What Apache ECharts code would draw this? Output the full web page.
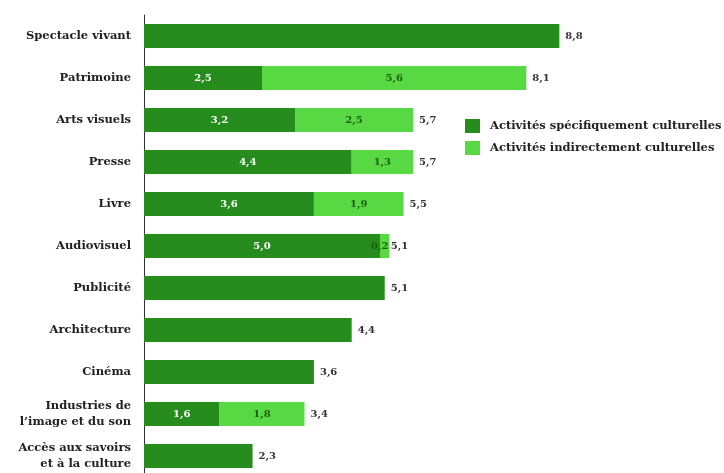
<!DOCTYPE html>
<html>
<head>
<meta charset="utf-8">
<script src="https://cdn.jsdelivr.net/npm/echarts@6/dist/echarts.min.js"></script>
<style>html,body{margin:0;padding:0;background:#fff;overflow:hidden;}#c{width:724px;height:478px;}</style>
</head>
<body>
<div id="c"></div>
<script>
var categories = ["Spectacle vivant","Patrimoine","Arts visuels","Presse","Livre","Audiovisuel","Publicité","Architecture","Cinéma","Industries de\nl’image et du son","Accès aux savoirs\net à la culture"];
var specifiques = [8.8, 2.5, 3.2, 4.4, 3.6, 5.0, 5.1, 4.4, 3.6, 1.6, 2.3];
var indirectes = [null, 5.6, 2.5, 1.3, 1.9, 0.2, null, null, null, 1.8, null];
var totals = [8.8, 8.1, 5.7, 5.7, 5.5, 5.1, 5.1, 4.4, 3.6, 3.4, 2.3];

var FONT = '"DejaVu Serif", "Liberation Serif", serif';
function fmt(v){ return v.toFixed(1).replace('.', ','); }
var indData = indirectes.map(function(v){
  if (v != null && v < 0.5) return { value: v, label: { offset: [-5, 0] } };
  return v;
});
var chart = echarts.init(document.getElementById('c'));
chart.setOption({
  animation: false,
  backgroundColor: '#fff',
  grid: { left: 144, top: 15, right: 108, bottom: 1 },
  xAxis: { type: 'value', min: 0, max: 10, show: false },
  yAxis: {
    type: 'category', data: categories, inverse: true,
    axisLine: { show: true, lineStyle: { color: '#333', width: 1 } },
    axisTick: { show: false },
    axisLabel: { margin: 13, color: '#222', fontFamily: FONT, fontWeight: 'bold', fontSize: 11.5, lineHeight: 16 }
  },
  legend: {
    data: ['Activités spécifiquement culturelles', 'Activités indirectement culturelles'],
    orient: 'vertical', left: 460, top: 114, itemWidth: 15, itemHeight: 14, itemGap: 8,
    icon: 'rect',
    textStyle: { color: '#222', fontFamily: FONT, fontWeight: 'bold', fontSize: 11.5, padding: [0, 0, 0, 5] }
  },
  series: [
    {
      name: 'Activités spécifiquement culturelles', type: 'bar', stack: 's', barWidth: 24,
      data: specifiques, itemStyle: { color: '#268c1e' },
      label: { show: true, position: 'inside', color: '#fff', fontFamily: FONT, fontWeight: 'bold', fontSize: 10,
        formatter: function(p){ return indirectes[p.dataIndex] == null ? '' : fmt(p.value); } }
    },
    {
      name: 'Activités indirectement culturelles', type: 'bar', stack: 's', barWidth: 24,
      data: indData, itemStyle: { color: '#58d842' },
      label: { show: true, position: 'inside', color: '#1f5e12', fontFamily: FONT, fontWeight: 'bold', fontSize: 10,
        formatter: function(p){ return fmt(p.value); } }
    },
    {
      name: 'Total', type: 'bar', barWidth: 24, barGap: '-100%', z: 1,
      data: totals, itemStyle: { color: 'rgba(0,0,0,0)' }, silent: true,
      label: { show: true, position: 'right', distance: 6, color: '#333', fontFamily: FONT, fontWeight: 'bold', fontSize: 10,
        formatter: function(p){ return fmt(p.value); } }
    }
  ]
});
</script>
</body>
</html>
